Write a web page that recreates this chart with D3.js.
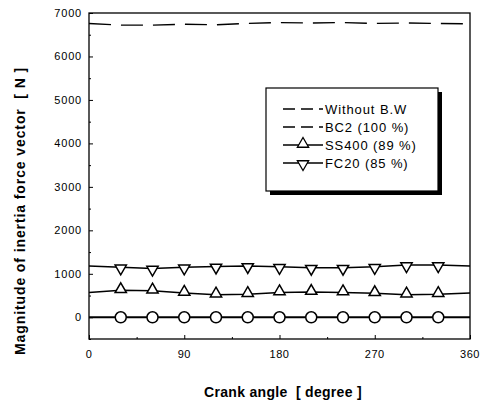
<!DOCTYPE html>
<html>
<head>
<meta charset="utf-8">
<script src="https://cdn.jsdelivr.net/npm/d3@7"></script>
<style>
body { margin: 0; background: #fff; }
text { font-family: "Liberation Sans", Arial, sans-serif; white-space: pre; }
</style>
</head>
<body>
<script>
const width = 488;
const height = 405;

// crank angle samples (degree)
const angles = [0, 30, 60, 90, 120, 150, 180, 210, 240, 270, 300, 330, 360];
const withoutBW = [6760, 6720, 6720, 6740, 6730, 6760, 6780, 6770, 6780, 6760, 6770, 6760, 6750];
const bc2 = [0, 0, 0, 0, 0, 0, 0, 0, 0, 0, 0, 0, 0];
const ss400 = [570, 620, 610, 560, 520, 530, 570, 580, 570, 550, 520, 530, 560];
const fc20 = [1180, 1150, 1120, 1150, 1170, 1180, 1160, 1140, 1140, 1160, 1200, 1200, 1180];

const xTicks = [0, 90, 180, 270, 360];
const yTicks = [0, 1000, 2000, 3000, 4000, 5000, 6000, 7000];
const legendLabels = ['Without B.W', 'BC2 (100 %)', 'SS400 (89 %)', 'FC20 (85 %)'];

const margin = {left: 89, right: 18, top: 13, bottom: 66};

const svg = d3.select('body').append('svg').attr('width', width).attr('height', height);

const x = d3.scaleLinear().domain([0, 360]).range([margin.left, width - margin.right]);
const y = d3.scaleLinear().domain([-500, 7000]).range([height - margin.bottom, margin.top]);

const g = svg.append('g');

// frame
g.append('rect')
    .attr('x', x(0)).attr('y', y(7000))
    .attr('width', x(360) - x(0)).attr('height', y(-500) - y(7000))
    .attr('fill', 'none').attr('stroke', '#000').attr('stroke-width', 1.3);

// y axis, ticks inward
const yAxis = g.append('g').attr('transform', `translate(${x(0)},0)`)
    .call(d3.axisRight(y).tickValues(yTicks).tickSize(4).tickFormat(''));
yAxis.select('.domain').remove();
g.append('g').attr('transform', `translate(${x(0)},0)`)
    .call(d3.axisRight(y).tickValues(d3.range(-500, 7000, 1000)).tickSize(2).tickFormat(''))
    .select('.domain').remove();
g.selectAll('.yl').data(yTicks).enter().append('text')
    .attr('x', x(0) - 7).attr('y', d => y(d) + 4)
    .attr('text-anchor', 'end').attr('font-size', 11).attr('letter-spacing', 0.8).text(d => d);

// x axis, ticks inward
const xAxis = g.append('g').attr('transform', `translate(0,${y(-500)})`)
    .call(d3.axisTop(x).tickValues(xTicks).tickSize(4).tickFormat(''));
xAxis.select('.domain').remove();
g.append('g').attr('transform', `translate(0,${y(-500)})`)
    .call(d3.axisTop(x).tickValues([45, 135, 225, 315]).tickSize(2).tickFormat(''))
    .select('.domain').remove();
g.selectAll('.xl').data(xTicks).enter().append('text')
    .attr('x', d => x(d)).attr('y', y(-500) + 19)
    .attr('text-anchor', 'middle').attr('font-size', 11).attr('letter-spacing', 0.5).text(d => d);

// axis titles
svg.append('text')
    .attr('x', 283).attr('y', 397)
    .attr('text-anchor', 'middle').attr('font-size', 14).attr('font-weight', 'bold')
    .attr('letter-spacing', 0.3)
    .text('Crank angle  [ degree ]');
svg.append('text')
    .attr('transform', 'translate(25,211) rotate(-90)')
    .attr('text-anchor', 'middle').attr('font-size', 14).attr('font-weight', 'bold')
    .attr('letter-spacing', 0.9)
    .text('Magnitude of inertia force vector  [ N ]');

const line = d3.line().x((d, i) => x(angles[i])).y(d => y(d));

// without balance weight (dashed)
g.append('path').datum(withoutBW).attr('d', line)
    .attr('fill', 'none').attr('stroke', '#000').attr('stroke-width', 1.4)
    .attr('stroke-dasharray', '22,10');

const solid = [bc2, ss400, fc20];
solid.forEach((s, k) => {
    g.append('path').datum(s).attr('d', line)
        .attr('fill', 'none').attr('stroke', '#000').attr('stroke-width', k === 0 ? 2 : 1.5);
});

const inner = angles.slice(1, -1);

g.selectAll('.circ').data(inner).enter().append('circle')
    .attr('cx', d => x(d)).attr('cy', (d, i) => y(bc2[i + 1]))
    .attr('r', 5.5).attr('fill', '#fff').attr('stroke', '#000').attr('stroke-width', 1.5);

const triUp = d3.symbol().type(d3.symbolTriangle).size(55);
g.selectAll('.up').data(inner).enter().append('path')
    .attr('d', triUp)
    .attr('transform', (d, i) => `translate(${x(d)},${y(ss400[i + 1]) - 1})`)
    .attr('fill', '#fff').attr('stroke', '#000').attr('stroke-width', 1.5);

g.selectAll('.down').data(inner).enter().append('path')
    .attr('d', triUp)
    .attr('transform', (d, i) => `translate(${x(d)},${y(fc20[i + 1]) + 1}) rotate(180)`)
    .attr('fill', '#fff').attr('stroke', '#000').attr('stroke-width', 1.5);

// legend with shadow
const lg = svg.append('g');
lg.append('rect').attr('x', 270).attr('y', 92).attr('width', 172).attr('height', 103).attr('fill', '#000');
lg.append('rect').attr('x', 266).attr('y', 88).attr('width', 172).attr('height', 103)
    .attr('fill', '#fff').attr('stroke', '#000').attr('stroke-width', 1.2);

legendLabels.forEach((lab, i) => {
    const ly = 109 + i * 18;
    const ln = lg.append('line').attr('x1', 283).attr('x2', 323).attr('y1', ly).attr('y2', ly)
        .attr('stroke', '#000').attr('stroke-width', 1.3);
    if (i < 2) ln.attr('stroke-dasharray', '12,6');
    if (i === 2) lg.append('path').attr('d', triUp).attr('transform', `translate(303,${ly - 1})`)
        .attr('fill', '#fff').attr('stroke', '#000').attr('stroke-width', 1.3);
    if (i === 3) lg.append('path').attr('d', triUp).attr('transform', `translate(303,${ly + 1}) rotate(180)`)
        .attr('fill', '#fff').attr('stroke', '#000').attr('stroke-width', 1.3);
    lg.append('text').attr('x', 325).attr('y', ly + 4.5).attr('font-size', 13)
        .attr('letter-spacing', 0.9).text(lab);
});
</script>
</body>
</html>
